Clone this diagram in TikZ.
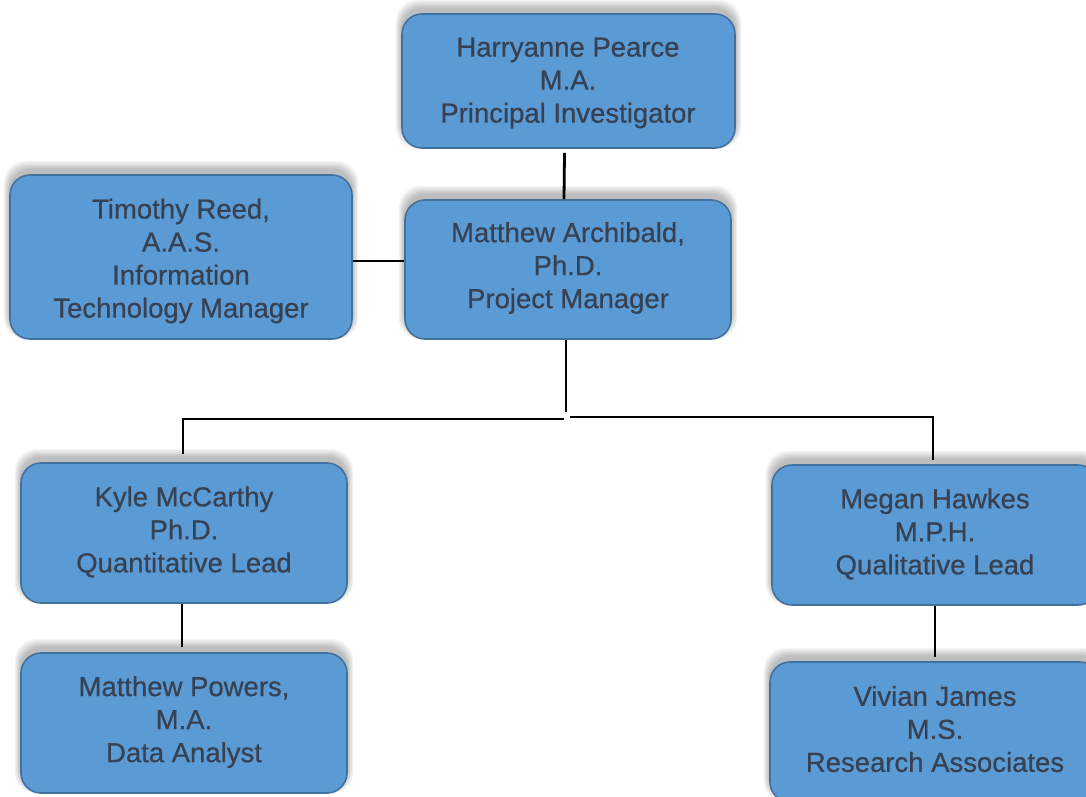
\documentclass[tikz,border=0pt]{standalone}
\usepackage{fontspec}
\setmainfont{Liberation Sans}
\newfontfamily\boxfont{Liberation Sans}[FakeBold=0.6]
\usetikzlibrary{calc}
\definecolor{boxfill}{RGB}{91,155,213}
\definecolor{boxline}{RGB}{65,113,156}
\definecolor{boxtext}{RGB}{55,65,82}
\tikzset{
  orgbox/.style={draw=boxline, line width=1.6pt, fill=boxfill, rounded corners=20pt,
    inner sep=0pt},
  orgtext/.style={align=center, text=boxtext, inner sep=0pt,
    font=\boxfont\fontsize{27.5}{33}\selectfont},
  conn/.style={draw=black, line width=2.8pt},
}
\newcommand{\shadowbox}[4]{% cx cy w h
  \foreach \k in {1,...,7}{
    \fill[black, opacity=0.04, rounded corners=22pt]
      ($(#1,#2)+(-#3/2-\k*0.9,-#4/2-\k*1.3-5)$) rectangle ($(#1,#2)+(#3/2+\k*0.9,#4/2+\k*0.8-5)$);
  }
}
\begin{document}
\begin{tikzpicture}[x=1pt,y=-1pt]
\useasboundingbox (0,0) rectangle (1086,797);
\clip (0,0) rectangle (1086,797);
\fill[white] (0,0) rectangle (1086,797);
% shadows
\shadowbox{568.5}{81}{333}{134}
\shadowbox{181}{257}{342}{164}
\shadowbox{568}{269.5}{326}{139}
\shadowbox{184}{533}{326}{140}
\shadowbox{184}{723}{326}{140}
\shadowbox{935}{535}{326}{140}
\shadowbox{935}{732}{330}{140}
% boxes
\node[orgbox, minimum width=333pt, minimum height=134pt] (pi) at (568.5,81) {};
\node[orgbox, minimum width=342pt, minimum height=164pt] (it) at (181,257) {};
\node[orgbox, minimum width=326pt, minimum height=139pt] (pm) at (568,269.5) {};
\node[orgbox, minimum width=326pt, minimum height=140pt] (quant) at (184,533) {};
\node[orgbox, minimum width=326pt, minimum height=140pt] (da) at (184,723) {};
\node[orgbox, minimum width=326pt, minimum height=140pt] (qual) at (935,535) {};
\node[orgbox, minimum width=330pt, minimum height=140pt] (ra) at (935,732) {};
% texts
\node[orgtext] (pitext) at (568,83) {Harryanne Pearce\\M.A.\\Principal Investigator};
\node[orgtext] (ittext) at (181,261) {Timothy Reed,\\A.A.S.\\Information\\Technology Manager};
\node[orgtext] (pmtext) at (568,268) {Matthew Archibald,\\Ph.D.\\Project Manager};
\node[orgtext] (quanttext) at (184,532) {Kyle McCarthy\\Ph.D.\\Quantitative Lead};
\node[orgtext] (datext) at (184,722) {Matthew Powers,\\M.A.\\Data Analyst};
\node[orgtext] (qualtext) at (935,534) {Megan Hawkes\\M.P.H.\\Qualitative Lead};
\node[orgtext] (ratext) at (935,729) {Vivian James\\M.S.\\Research Associates};
% connector coordinates
\coordinate (hubv) at (566,412);
\coordinate (hubl) at (564,419);
\coordinate (hubr) at (570,417);
% connectors
\draw[conn] ($(pi.south)+(-4,4)$) -- ($(pm.north)+(-4,0)$);
\draw[conn] (it.east |- 0,261) -- (pm.west |- 0,261);
\draw[conn] ($(pm.south)+(-2,0)$) -- (hubv);
\draw[conn] (hubl) -- (183,419) -- ($(quant.north)+(-1,-8)$);
\draw[conn] (hubr) -- (933,417) -- ($(qual.north)+(-2,-4)$);
\draw[conn] ($(quant.south)+(-2,0)$) -- ($(da.north)+(-2,-5)$);
\draw[conn] (qual.south) -- ($(ra.north)+(0,-4)$);
\end{tikzpicture}
\end{document}
